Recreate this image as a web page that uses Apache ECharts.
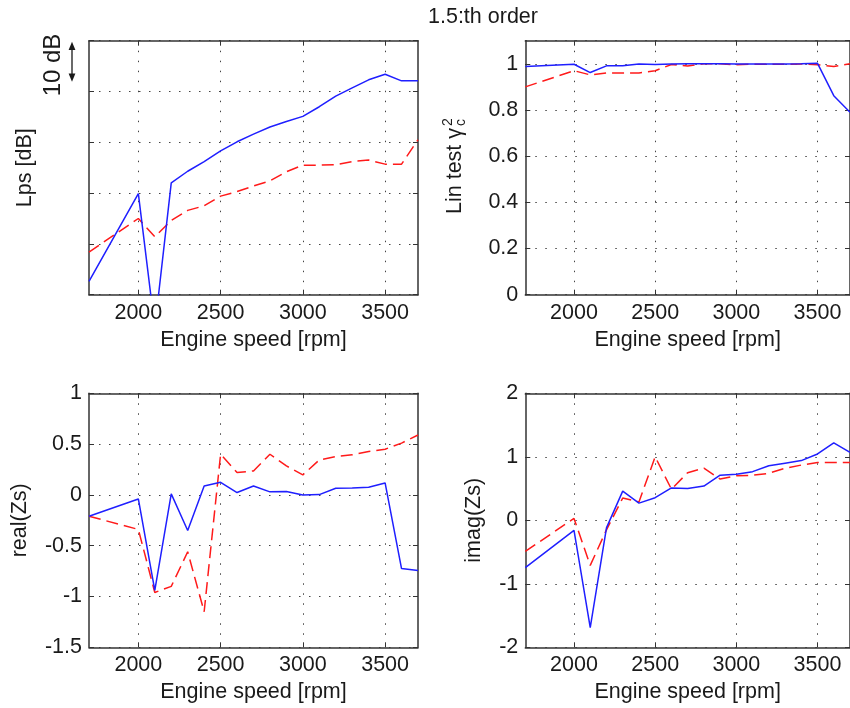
<!DOCTYPE html>
<html>
<head>
<meta charset="utf-8">
<script src="https://cdn.jsdelivr.net/npm/echarts@6/dist/echarts.min.js"></script>
<style>
  html, body { margin: 0; padding: 0; background: #fff; }
  #chart { width: 850px; height: 708px; }
</style>
</head>
<body>
<div id="chart"></div>
<script>
// engine speed samples (rpm)
var rpm = [1700, 2000, 2100, 2200, 2300, 2400, 2500, 2600, 2700, 2800, 2900, 3000, 3100, 3200, 3300, 3400, 3500, 3600, 3700];
var rpmTicks = [2000, 2500, 3000, 3500];

// Lps [dB] (relative, 10 dB per grid step)
var lpsBlue = [2.6, 19.9, -6.5, 22.0, 24.3, 26.2, 28.3, 30.1, 31.6, 33.0, 34.1, 35.1, 37.0, 39.1, 40.7, 42.3, 43.4, 42.1, 42.1];
var lpsRed  = [8.4, 15.0, 11.4, 14.6, 16.6, 17.5, 19.4, 20.3, 21.4, 22.4, 24.2, 25.5, 25.5, 25.6, 26.2, 26.5, 25.7, 25.7, 30.5];

// linearity test gamma_c^2
var linBlue = [0.988, 0.998, 0.962, 0.991, 0.991, 0.999, 0.997, 0.999, 1.0, 1.0, 1.0, 0.999, 0.999, 0.999, 0.999, 1.0, 1.002, 0.862, 0.79];
var linRed  = [0.90, 0.97, 0.952, 0.96, 0.96, 0.96, 0.97, 0.997, 0.99, 1.0, 1.0, 0.996, 0.998, 0.998, 0.998, 0.999, 0.996, 0.988, 1.0];

// real(Zs)
var realBlue = [-0.21, -0.04, -0.94, 0.01, -0.35, 0.088, 0.124, 0.023, 0.088, 0.03, 0.033, 0.0, 0.003, 0.066, 0.069, 0.075, 0.118, -0.725, -0.745];
var realRed  = [-0.21, -0.34, -0.96, -0.90, -0.56, -1.15, 0.40, 0.22, 0.236, 0.40, 0.285, 0.197, 0.344, 0.377, 0.394, 0.427, 0.45, 0.51, 0.59];

// imag(Zs)
var imagBlue = [-0.745, -0.16, -1.69, -0.12, 0.46, 0.27, 0.356, 0.51, 0.50, 0.54, 0.71, 0.724, 0.766, 0.86, 0.9, 0.94, 1.045, 1.22, 1.07];
var imagRed  = [-0.49, 0.03, -0.71, -0.15, 0.35, 0.29, 1.0, 0.49, 0.75, 0.82, 0.65, 0.70, 0.71, 0.74, 0.82, 0.87, 0.91, 0.91, 0.91];

var font = '"Liberation Sans", Arial, Helvetica, sans-serif';
var ink = '#1a1a1a';
var fs = 21.5;

var panels = [
  { grid: { left: 89, top: 40.7, width: 329, height: 254 },
    y: { min: 0, max: 50, interval: 10, labels: false, name: 'Lps [dB]', gap: 53 },
    blue: lpsBlue, red: lpsRed },
  { grid: { left: 525.3, top: 40.7, width: 328.7, height: 254 },
    y: { min: 0, max: 1.1, interval: 0.2, labels: true, name: '', gap: 0 },
    blue: linBlue, red: linRed },
  { grid: { left: 89, top: 393.3, width: 329, height: 254 },
    y: { min: -1.5, max: 1, interval: 0.5, labels: true, name: 'real(Zs)', gap: 57.5 },
    blue: realBlue, red: realRed },
  { grid: { left: 525.3, top: 393.3, width: 328.7, height: 254 },
    y: { min: -2, max: 2, interval: 1, labels: true, name: 'imag(Zs)', gap: 40.5 },
    blue: imagBlue, red: imagRed }
];

var frame = { show: true, onZero: false, lineStyle: { color: '#333', width: 1.5 } };
var dots = { show: true, lineStyle: { color: '#444', width: 1, type: [1.5, 8.5] } };
var tick = { show: true, inside: true, length: 5, lineStyle: { color: '#333', width: 1 } };
var labelText = { color: ink, fontSize: fs, fontFamily: font };

function pairs(vals) {
  return rpm.map(function (r, k) { return [r, vals[k]]; });
}

var grids = [], xAxes = [], yAxes = [], series = [];

panels.forEach(function (p, i) {
  grids.push(Object.assign({ containLabel: false }, p.grid));

  // bottom / top x axes
  xAxes.push({
    type: 'value', gridIndex: i, position: 'bottom', min: 1700, max: 3700,
    axisLine: frame, axisTick: Object.assign({ customValues: rpmTicks }, tick),
    axisLabel: Object.assign({ customValues: rpmTicks, margin: 7,
      formatter: function (v) { return String(v); } }, labelText),
    splitLine: dots,
    name: 'Engine speed [rpm]', nameLocation: 'middle', nameGap: 34,
    nameTextStyle: labelText
  });
  xAxes.push({
    type: 'value', gridIndex: i, position: 'top', min: 1700, max: 3700,
    axisLine: frame, axisTick: Object.assign({ customValues: rpmTicks }, tick),
    axisLabel: { show: false, customValues: rpmTicks }, splitLine: { show: false }
  });

  // left / right y axes
  yAxes.push({
    type: 'value', gridIndex: i, position: 'left',
    min: p.y.min, max: p.y.max, interval: p.y.interval,
    axisLine: frame, axisTick: tick,
    axisLabel: Object.assign({ show: p.y.labels, margin: 7, showMaxLabel: i !== 1 }, labelText),
    splitLine: dots,
    name: p.y.name, nameLocation: 'middle', nameGap: p.y.gap, nameRotate: 90,
    nameTextStyle: labelText
  });
  yAxes.push({
    type: 'value', gridIndex: i, position: 'right',
    min: p.y.min, max: p.y.max, interval: p.y.interval,
    axisLine: frame, axisTick: tick, axisLabel: { show: false }, splitLine: { show: false }
  });

  series.push({
    type: 'line', xAxisIndex: 2 * i, yAxisIndex: 2 * i, data: pairs(p.red),
    showSymbol: false, clip: true, z: 3,
    lineStyle: { color: '#ff1a1a', width: 1.5, type: [12, 6] }
  });
  series.push({
    type: 'line', xAxisIndex: 2 * i, yAxisIndex: 2 * i, data: pairs(p.blue),
    showSymbol: false, clip: true, z: 4,
    lineStyle: { color: '#1f1fff', width: 1.5 }
  });
});

var chart = echarts.init(document.getElementById('chart'), null, { renderer: 'canvas' });

chart.setOption({
  animation: false,
  backgroundColor: '#fff',
  title: {
    text: '1.5:th order', left: 428, top: 6, padding: 0,
    textStyle: { color: ink, fontSize: fs, fontWeight: 'normal', fontFamily: font }
  },
  grid: grids,
  xAxis: xAxes,
  yAxis: yAxes,
  series: series,
  graphic: [
    // "10 dB" scale marker next to the Lps axis
    { type: 'text', x: 53, y: 65, rotation: Math.PI / 2,
      style: { text: '10 dB', fontSize: 24, fontFamily: font, fill: ink,
               align: 'center', verticalAlign: 'middle', textAlign: 'center', textVerticalAlign: 'middle' } },
    { type: 'line', shape: { x1: 72, y1: 46, x2: 72, y2: 77 }, style: { stroke: ink, lineWidth: 1.3 } },
    { type: 'polygon', shape: { points: [[72, 41.7], [68.6, 50], [75.4, 50]] }, style: { fill: ink } },
    { type: 'polygon', shape: { points: [[72, 81.7], [68.6, 73.4], [75.4, 73.4]] }, style: { fill: ink } },
    // Lin test gamma_c^2 label
    { type: 'group', x: 455, y: 214, rotation: Math.PI / 2, children: [
      { type: 'text', x: 0, y: 0,
        style: { text: 'Lin test \u03b3', fontSize: fs, fontFamily: font, fill: ink,
                 align: 'left', verticalAlign: 'middle', textAlign: 'left', textVerticalAlign: 'middle' } },
      { type: 'text', x: 88, y: -7,
        style: { text: '2', fontSize: 14, fontFamily: font, fill: ink,
                 align: 'left', verticalAlign: 'middle', textAlign: 'left', textVerticalAlign: 'middle' } },
      { type: 'text', x: 88, y: 6,
        style: { text: 'c', fontSize: 14, fontFamily: font, fill: ink,
                 align: 'left', verticalAlign: 'middle', textAlign: 'left', textVerticalAlign: 'middle' } }
    ] }
  ]
});

window.addEventListener('resize', chart.resize);
</script>
</body>
</html>
